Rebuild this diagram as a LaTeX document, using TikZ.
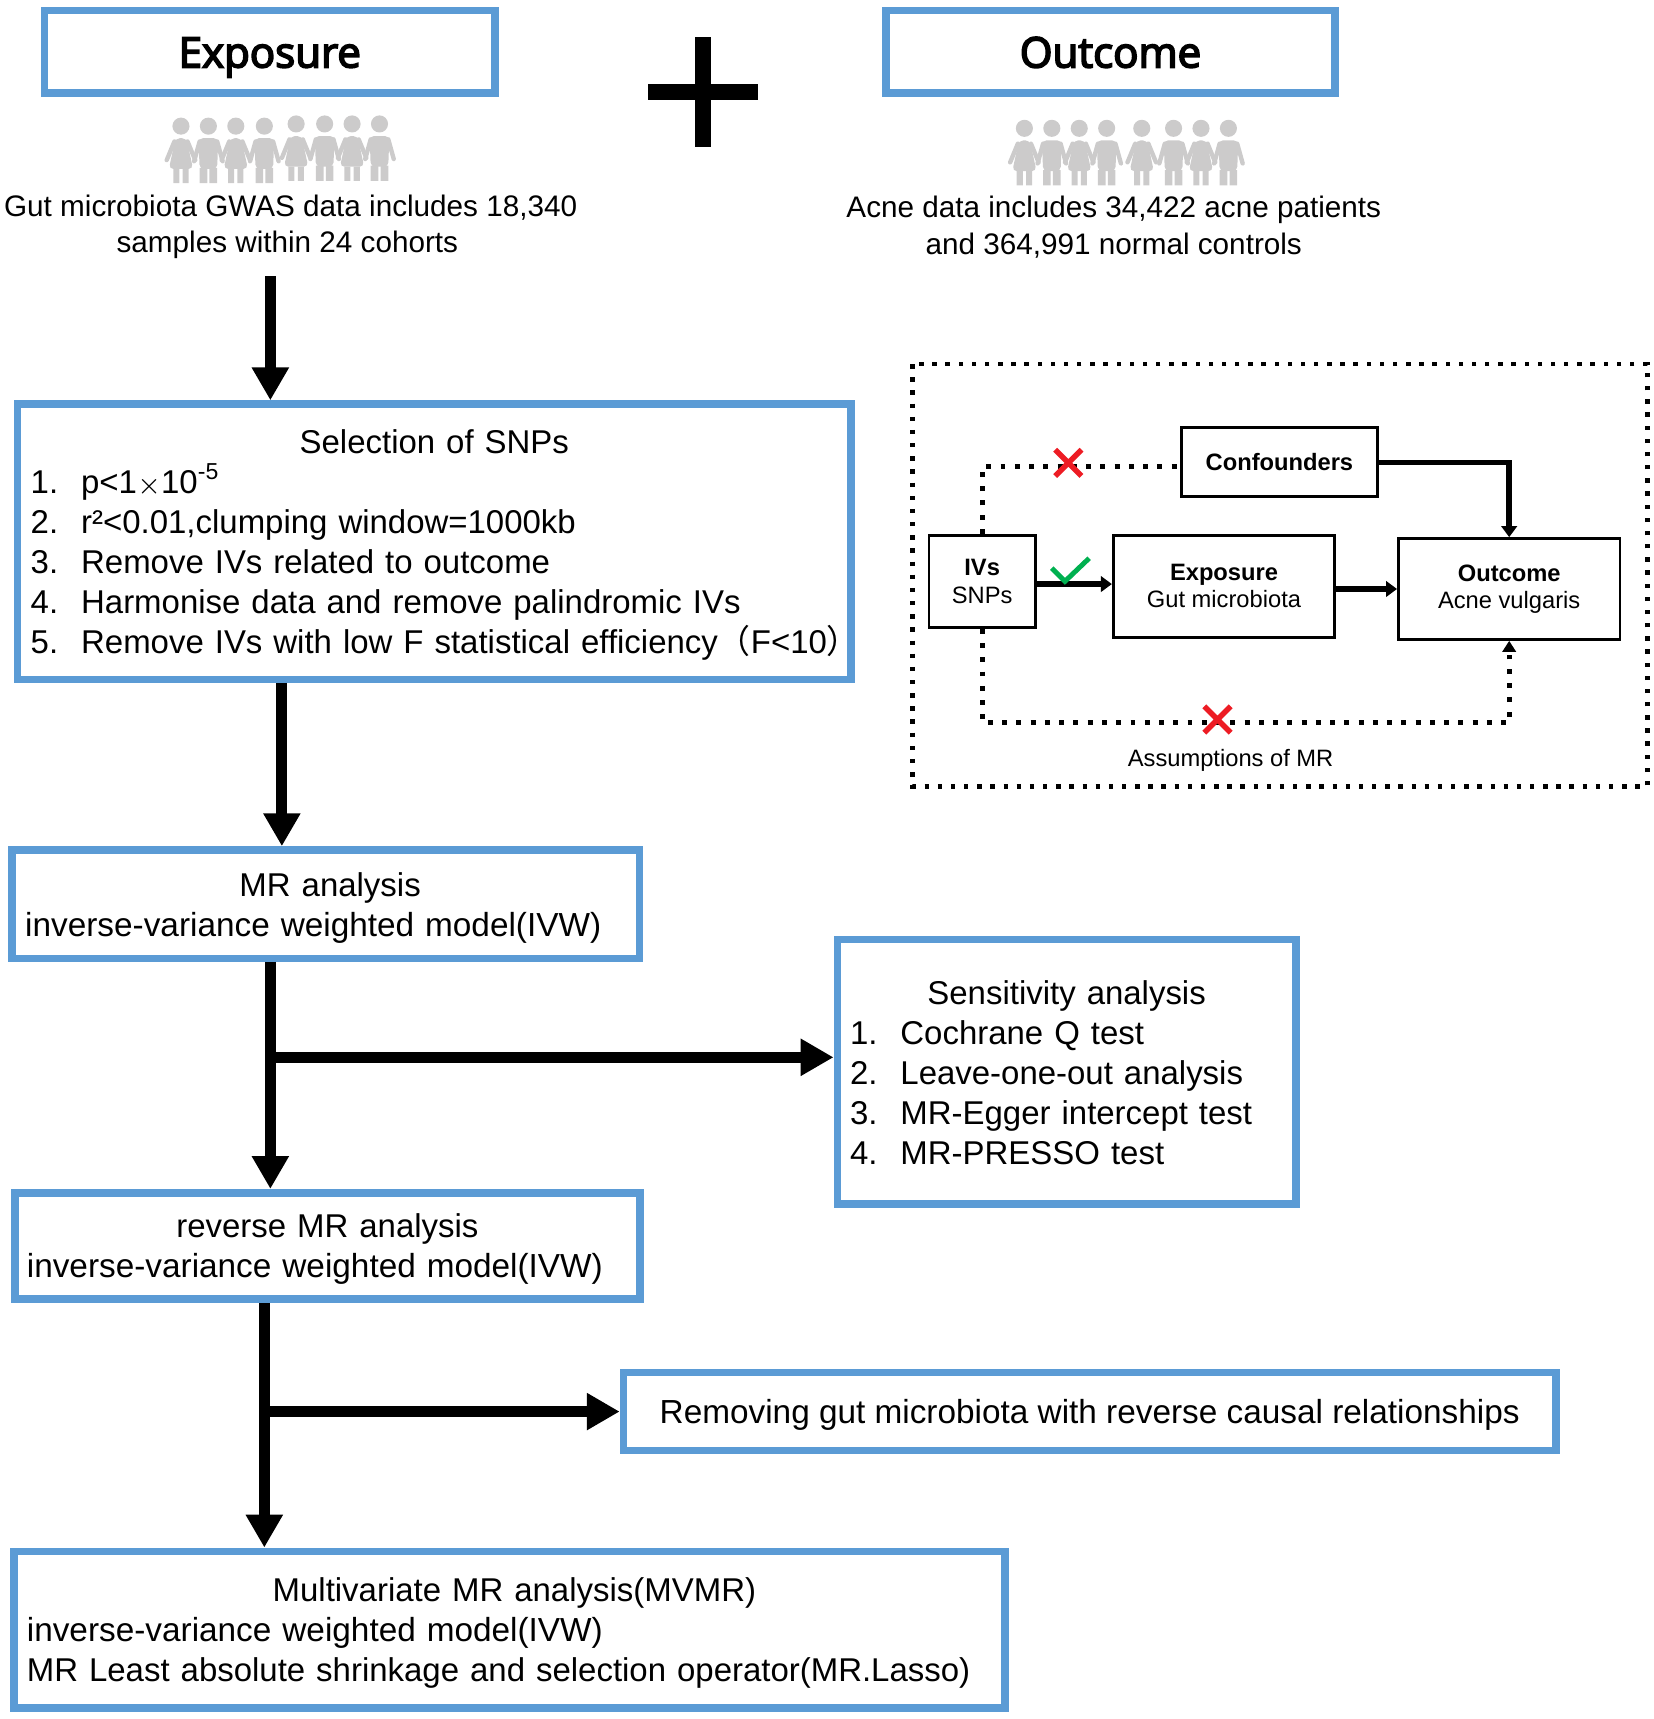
\documentclass[tikz,border=0pt]{standalone}
\usepackage{fontspec}
\setmainfont{Liberation Sans}
\newfontfamily\cjk{Noto Sans CJK SC}
\newfontfamily\headfont[FakeBold=4]{Open Sans}
\usetikzlibrary{arrows.meta}
\definecolor{boxblue}{HTML}{5B9BD5}
\definecolor{persongray}{HTML}{CCCBCB}
\definecolor{crossred}{HTML}{ED1C24}
\definecolor{checkgreen}{HTML}{00B050}
\newcommand\mainsize{\fontsize{8.55pt}{10.36pt}\selectfont}
\newcommand\widesize{\fontsize{8.65pt}{10.36pt}\selectfont}
\newcommand\smallsize{\fontsize{6.15pt}{7.1pt}\selectfont}
\newcommand\topsize{\fontsize{7.7pt}{9.4pt}\selectfont}
\newcommand\headsize{\headfont\fontsize{10.9pt}{12pt}\selectfont}
\newcommand\titleline[2][2.8mm]{\makebox[\hsize]{\rule{0pt}{#1}#2}}
\newcommand\numline[2]{\mbox{\makebox[4.6mm][l]{#1}#2}}
\tikzset{
	bluebox/.style={draw=boxblue,line width=0.7mm,inner sep=0pt,font=\mainsize},
	headbox/.style={bluebox,minimum height=7.5mm,font=\headsize,text height=3.65mm,text depth=0.75mm},
	innerbox/.style={draw,line width=0.25mm,inner sep=0pt,align=center,font=\smallsize},
	flowarrow/.style={line width=1mm,-{Triangle[length=3mm,width=3.2mm]}},
	thinarrow/.style={line width=0.5mm,-{Triangle[length=1mm,width=1.4mm]}},
	framedots/.style={line width=0.4mm,dash pattern=on 0.4mm off 0.8mm},
	dotline/.style={line width=0.45mm,dash pattern=on 0.45mm off 0.85mm},
	pics/girl/.style={code={
		\fill[persongray] (0,0) circle (0.78mm);
		\fill[persongray,rounded corners=0.4mm] (-5,11) -- (5,11) -- (11,39) -- (-11,39) -- cycle;
		\fill[persongray] (-7,39) rectangle (-1.5,52) (1.5,39) rectangle (7,52);
		\draw[persongray,line width=0.4mm,line cap=round] (-6,14) -- (-13,31) (6,14) -- (13,31);
	}},
	pics/boy/.style={code={
		\fill[persongray] (0,0) circle (0.78mm);
		\fill[persongray,rounded corners=0.4mm] (-9,11) -- (9,11) -- (8,39) -- (-8,39) -- cycle;
		\fill[persongray] (-8,38) rectangle (-1,52) (1,38) rectangle (8,52);
		\draw[persongray,line width=0.4mm,line cap=round] (-8,14) -- (-13,32) (8,14) -- (13,32);
	}},
	pics/crossmark/.style={code={
		\draw[crossred,line width=0.5mm] (-12,-12) -- (12,12) (-12,12) -- (12,-12);
	}}
}
\begin{document}
\begin{tikzpicture}[x=0.1mm,y=-0.1mm]
	\useasboundingbox (0,0) rectangle (1508,1567.3);
	\node[headbox,minimum width=41.1mm] (exposure) at (246,47) {Exposure};
	\node[headbox,minimum width=40.95mm] (outcome) at (1012.5,47) {Outcome};
	\draw[line width=1.5mm] (591,84) -- (691,84) (641,34) -- (641,134);
	\foreach \hx/\hy in {165/115,215/115,270/113,321/113,934/117,984/117,1041/117,1095/117}
		\pic at (\hx,\hy) {girl};
	\foreach \hx/\hy in {190/115,241/115,296/113,346/113,959/117,1009/117,1070/117,1120/117}
		\pic at (\hx,\hy) {boy};
	\node[align=center,inner sep=0pt,font=\topsize] (gwas) at (265,207) {Gut microbiota GWAS data includes 18,340\\samples within 24 cohorts\hspace*{0.6mm}};
	\node[align=center,inner sep=0pt,font=\topsize] (acne) at (1015.5,207) {Acne data includes 34,422 acne patients\\and 364,991 normal controls};
	\node[bluebox,minimum width=76mm,minimum height=25.1mm,text width=73.6mm,align=left] (selection) at (396,494) {\titleline{Selection of SNPs}\\
		\numline{1.}{p<1{\scriptsize$\times$}10\textsuperscript{-5}}\\
		\numline{2.}{r²<0.01,clumping window=1000kb}\\
		\numline{3.}{Remove IVs related to outcome}\\
		\numline{4.}{Harmonise data and remove palindromic IVs}\\
		\numline{5.}{Remove IVs with low F statistical efficiency{\cjk（}F<10{\cjk）}}};
	\node[bluebox,minimum width=57.2mm,minimum height=9.9mm,text width=54.8mm,align=left] (mr) at (297,824.5) {\titleline{\hspace*{0.8mm}MR analysis}\\{\widesize inverse-variance weighted model(IVW)}};
	\node[bluebox,minimum width=57mm,minimum height=9.7mm,text width=54.8mm,align=left] (reverse) at (298.5,1136) {\titleline{reverse MR analysis}\\{\widesize inverse-variance weighted model(IVW)}};
	\node[bluebox,minimum width=41.8mm,minimum height=24.1mm,text width=39.5mm,align=left] (sensitivity) at (972.5,977) {\titleline[2.4mm]{Sensitivity analysis}\\
		\numline{1.}{Cochrane Q test}\\
		\numline{2.}{Leave-one-out analysis}\\
		\numline{3.}{MR-Egger intercept test}\\
		\numline{4.}{MR-PRESSO test}};
	\node[bluebox,minimum width=85mm,minimum height=7.1mm,font=\widesize] (removing) at (993.5,1287) {\rule{0pt}{2.8mm}Removing gut microbiota with reverse causal relationships};
	\node[bluebox,minimum width=90.4mm,minimum height=14.3mm,text width=88mm,align=left] (multi) at (464.5,1486) {\titleline{\hspace*{0.9mm}Multivariate MR analysis(MVMR)}\\
		{\widesize inverse-variance weighted model(IVW)}\\
		\mbox{MR Least absolute shrinkage and selection operator(MR.Lasso)}};
	\coordinate (gwasdown) at (246.5,252);
	\coordinate (selectiondown) at (257,623);
	\coordinate (mrdown) at (246.5,877);
	\coordinate (mrbranch) at (246.5,964);
	\coordinate (reversedown) at (241,1188);
	\coordinate (reversebranch) at (241,1287);
	\draw[flowarrow] (gwasdown) -- (gwasdown |- selection.north);
	\draw[flowarrow] (selectiondown) -- (selectiondown |- mr.north);
	\draw[flowarrow] (mrdown) -- (mrdown |- reverse.north);
	\draw[flowarrow] (mrbranch) -- (mrbranch -| sensitivity.west);
	\draw[flowarrow] (reversedown) -- (reversedown |- multi.north);
	\draw[flowarrow] (reversebranch) -- (removing.west);
	\draw[framedots] (832,332) rectangle (1502,717);
	\node[innerbox,minimum width=9.7mm,minimum height=8.4mm] (ivs) at (895.5,530) {\textbf{IVs}\\SNPs};
	\node[innerbox,minimum width=17.9mm,minimum height=6.3mm,font=\smallsize\bfseries] (confounders) at (1166.5,421.5) {Confounders};
	\node[innerbox,minimum width=20.2mm,minimum height=9.3mm] (expo) at (1116,534.5) {\textbf{Exposure}\\Gut microbiota};
	\node[innerbox,minimum width=20.2mm,minimum height=9.2mm] (outc) at (1376,537) {\textbf{Outcome}\\Acne vulgaris};
	\node[inner sep=0pt,font=\smallsize] (assumptions) at (1122,693) {Assumptions of MR};
	\coordinate (bottomcross) at (1110,659);
	\draw[thinarrow] ([yshift=-0.25mm]ivs.east) -- ([yshift=-0.25mm]ivs.east -| expo.west);
	\draw[thinarrow] (outc.west -| expo.east) -- (outc.west);
	\draw[thinarrow] (confounders.east) -| (outc.north);
	\draw[dotline] (ivs.north) |- ([yshift=-0.4mm]confounders.west);
	\draw[dotline,-{Triangle[length=1mm,width=1.2mm]}] (ivs.south) |- (bottomcross) -| (outc.south);
	\pic at (974,422) {crossmark};
	\pic at (1110,656) {crossmark};
	\draw[checkgreen,line width=0.45mm] (959,518) -- (971,530) -- (993,509);
\end{tikzpicture}
\end{document}
